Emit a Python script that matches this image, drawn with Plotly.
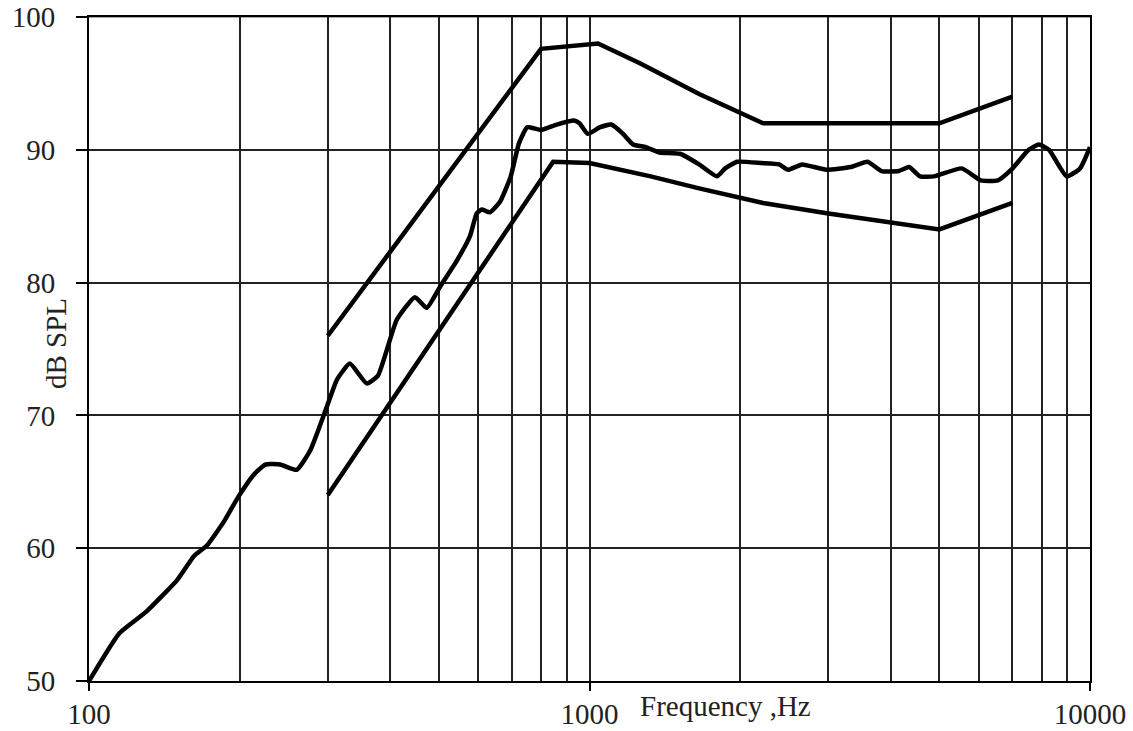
import plotly.graph_objects as go

# ---- data ----
freq_mid = [100, 115, 130, 150, 162, 172, 186, 199, 213, 225,
            241, 260, 277, 299, 313, 332, 359, 378, 412, 448,
            473, 503, 544, 577, 595, 609, 633, 663, 696, 723,
            751, 800, 860, 931, 955, 992, 1050, 1105, 1167, 1222,
            1296, 1380, 1516, 1656, 1797, 1867, 1974, 2208, 2390, 2495,
            2659, 2972, 3323, 3595, 3833, 4149, 4353, 4574, 4876, 5543,
            6051, 6549, 6962, 7542, 7905, 8285, 8982, 9554, 10000]
spl_mid = [50.0, 53.6, 55.2, 57.6, 59.4, 60.2, 62.0, 63.9, 65.5, 66.3,
           66.3, 65.9, 67.4, 70.7, 72.7, 73.9, 72.4, 73.0, 77.2, 78.9,
           78.1, 79.7, 81.7, 83.5, 85.2, 85.5, 85.3, 86.1, 88.0, 90.5,
           91.7, 91.5, 91.9, 92.2, 92.0, 91.2, 91.7, 91.9, 91.2, 90.4,
           90.2, 89.8, 89.7, 88.9, 88.0, 88.6, 89.1, 89.0, 88.9, 88.5,
           88.9, 88.5, 88.7, 89.1, 88.4, 88.4, 88.7, 88.0, 88.0, 88.6,
           87.7, 87.7, 88.5, 90.0, 90.4, 90.0, 88.0, 88.6, 90.2]

freq_upper = [300, 800, 1040, 1264, 1656, 2222, 5000, 6000, 7000]
spl_upper = [76.0, 97.6, 98.0, 96.5, 94.2, 92.0, 92.0, 93.1, 94.0]

freq_lower = [300, 846, 1000, 1325, 1656, 2000, 2222, 3000, 4000, 5000, 7000]
spl_lower = [64.0, 89.1, 89.0, 88.0, 87.1, 86.4, 86.0, 85.2, 84.5, 84.0, 86.0]

x_tickvals = [100, 1000, 10000]
x_ticktext = ["100", "1000", "10000"]
y_tickvals = [50, 60, 70, 80, 90, 100]
grey_x_grid = [400, 700, 800]
grey_y_grid = [60, 100]

FONT = "Liberation Serif"
GRID = "#222222"

fig = go.Figure()
line_style = dict(color="black", width=4.5)
fig.add_trace(go.Scatter(x=freq_upper, y=spl_upper, mode="lines", line=line_style,
                         showlegend=False, hoverinfo="skip"))
fig.add_trace(go.Scatter(x=freq_lower, y=spl_lower, mode="lines", line=line_style,
                         showlegend=False, hoverinfo="skip"))
fig.add_trace(go.Scatter(x=freq_mid, y=spl_mid, mode="lines",
                         line=dict(color="black", width=4.5, shape="spline", smoothing=0.45),
                         showlegend=False, hoverinfo="skip"))

for gx in grey_x_grid:
    fig.add_shape(type="line", xref="x", yref="paper", x0=gx, x1=gx, y0=0, y1=1,
                  line=dict(color="#9a9a9a", width=1.5), layer="between")
for gy in grey_y_grid:
    fig.add_shape(type="line", xref="paper", yref="y", x0=0, x1=1, y0=gy, y1=gy,
                  line=dict(color="#8a8a8a", width=1.5), layer="between")

fig.update_xaxes(
    type="log", range=[2, 4], automargin=False,
    tickvals=x_tickvals, ticktext=x_ticktext,
    ticks="outside", ticklen=8, tickwidth=2, tickcolor="black",
    showgrid=True, gridcolor=GRID, gridwidth=1.6,
    minor=dict(dtick="D1", showgrid=True, gridcolor=GRID, gridwidth=1.6, ticks=""),
    showline=True, linecolor="black", linewidth=2, mirror=True,
    zeroline=False, ticklabelstandoff=-2, ticklabeloverflow="allow",
    tickfont=dict(family=FONT, size=29, color="#222"),
)
fig.update_yaxes(
    range=[50, 100], tickvals=y_tickvals, automargin=False,
    ticks="outside", ticklen=11, tickwidth=2, tickcolor="black",
    showgrid=True, gridcolor=GRID, gridwidth=1.6,
    showline=True, linecolor="black", linewidth=2, mirror=True,
    zeroline=False, ticklabelstandoff=15, ticklabeloverflow="allow",
    tickfont=dict(family=FONT, size=29, color="#222"),
)

fig.add_annotation(text="Frequency ,Hz", xref="paper", yref="paper",
                   x=0.636, y=-0.038, xanchor="center", yanchor="middle",
                   showarrow=False, font=dict(family=FONT, size=29, color="#222"))
fig.add_annotation(text="dB SPL", xref="paper", yref="paper",
                   x=-0.033, y=0.509, xanchor="center", yanchor="middle",
                   textangle=-90, showarrow=False,
                   font=dict(family=FONT, size=29, color="#222"))

fig.update_layout(
    width=1133, height=731,
    margin=dict(l=89, r=43, t=17, b=50, autoexpand=False),
    paper_bgcolor="white", plot_bgcolor="white",
)

fig.write_html("out.html",
               config={"displayModeBar": False},
               post_script="document.body.style.margin='0';document.body.style.overflow='hidden';")
